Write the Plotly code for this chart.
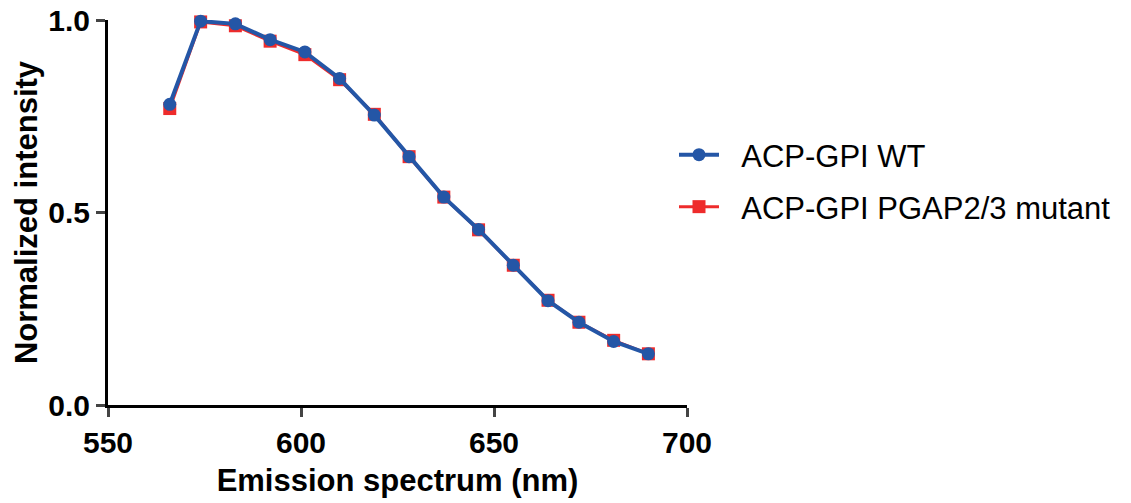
import plotly.graph_objects as go

wavelength = [566, 574, 583, 592, 601, 610, 619, 628, 637, 646, 655, 664, 672, 681, 690]
wt = [0.781, 0.997, 0.990, 0.949, 0.917, 0.848, 0.753, 0.645, 0.540, 0.456, 0.363, 0.271, 0.215, 0.165, 0.133]
mutant = [0.770, 0.995, 0.985, 0.945, 0.910, 0.845, 0.755, 0.645, 0.540, 0.455, 0.363, 0.272, 0.215, 0.168, 0.133]
x_ticks = [550, 600, 650, 700]
y_ticks = [0.0, 0.5, 1.0]

BLUE = "#2456A6"
RED = "#EE2B2B"
FAM = "Liberation Sans, Arial, sans-serif"

fig = go.Figure()
fig.add_trace(go.Scatter(
    x=wavelength, y=mutant, mode="lines+markers", name="\u00a0\u00a0ACP-GPI PGAP2/3 mutant",
    line=dict(color=RED, width=3), marker=dict(symbol="square", size=13, color=RED),
    cliponaxis=False, legend="legend2", showlegend=True))
fig.add_trace(go.Scatter(
    x=wavelength, y=wt, mode="lines+markers", name="\u00a0\u00a0ACP-GPI WT",
    line=dict(color=BLUE, width=4), marker=dict(symbol="circle", size=13, color=BLUE),
    cliponaxis=False, legend="legend", showlegend=True))

axis_font = dict(family=FAM, size=30, color="black", weight="bold")
title_font = dict(family=FAM, size=31, color="black", weight="bold")
leg_font = dict(family=FAM, size=31, color="black")

lx = (674 - 108) / (1131 - 444 - 108)

fig.update_layout(
    width=1131, height=503,
    margin=dict(l=108, r=444, t=20, b=98, autoexpand=False),
    paper_bgcolor="white", plot_bgcolor="white",
    font=dict(family=FAM, color="black"),
    showlegend=True,
    xaxis=dict(range=[550, 700], tickvals=x_ticks, ticks="outside", ticklen=9, tickwidth=3,
               showline=True, linewidth=3, linecolor="black", showgrid=False, zeroline=False,
               automargin=False, tickfont=axis_font,
               title=dict(text="Emission spectrum (nm)", font=title_font, standoff=12)),
    yaxis=dict(range=[0, 1.0], tickvals=y_ticks, tickformat=".1f", ticks="outside", ticklen=9, tickwidth=3,
               showline=True, linewidth=3, linecolor="black", showgrid=False, zeroline=False,
               automargin=False, tickfont=axis_font,
               title=dict(text="Normalized intensity", font=title_font, standoff=2)),
    legend=dict(x=lx, y=(405 - 155) / 385, xref="paper", yref="paper",
                xanchor="left", yanchor="middle", bgcolor="rgba(0,0,0,0)", visible=True,
                font=leg_font, itemwidth=40),
    legend2=dict(x=lx, y=(405 - 207) / 385, xref="paper", yref="paper",
                 xanchor="left", yanchor="middle", bgcolor="rgba(0,0,0,0)", visible=True,
                 font=leg_font, itemwidth=40),
)

fig.write_html("out.html")
